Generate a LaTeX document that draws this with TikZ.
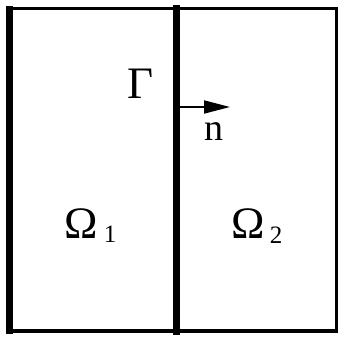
\documentclass[tikz,border=0pt]{standalone}
\usepackage{fontspec}
\setmainfont{Liberation Serif}
\usetikzlibrary{arrows.meta}
\begin{document}
\begin{tikzpicture}[x=1pt,y=-1pt,
  lbl/.style={inner sep=0pt,anchor=center},
  big/.style={lbl,font=\fontsize{45}{45}\selectfont},
  sub/.style={lbl,font=\fontsize{25}{25}\selectfont},
  frame/.style={line cap=rect}]
\useasboundingbox (0,0) rectangle (344,342);
\coordinate (TL) at (9.5,9);
\coordinate (TR) at (336,9);
\coordinate (BL) at (9.5,331);
\coordinate (BR) at (336,331);
\coordinate (MT) at (176,9);
\coordinate (MB) at (176,331);
\coordinate (A0) at (179.5,107);
\coordinate (A1) at (230,107);
\draw[frame,line width=3pt] (TL) -- (TR);
\draw[frame,line width=3pt] (TR) -- (BR);
\draw[frame,line width=4pt] (BL) -- (BR);
\draw[frame,line width=6.5pt] (TL) -- (BL);
\draw[frame,line width=7pt] (MT) -- (MB);
\draw[line width=1.8pt,-{Triangle[length=26pt,width=13pt]}] (A0) -- (A1);
\node[big] (gamma) at (140.5,84) {Γ};
\node[lbl,font=\fontsize{38}{38}\selectfont] (n) at (214,132) {n};
\node[big] (om1) at (81,224) {Ω};
\node[sub] (s1) at (110,234) {1};
\node[big] (om2) at (248,224) {Ω};
\node[sub] (s2) at (276,235) {2};
\end{tikzpicture}
\end{document}
